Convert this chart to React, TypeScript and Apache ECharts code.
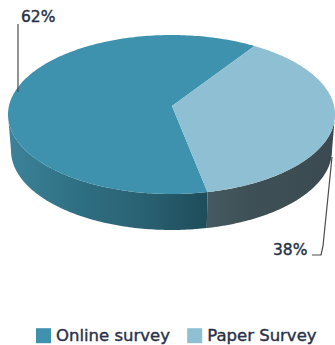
import React, { useEffect, useRef } from "react";
import * as echarts from "echarts";

const categories = ["Online survey", "Paper Survey"];
const shares = [62, 38];
const topColors = ["#3e92ad", "#8fbfd2"];
const wallStops = [
  ["#3d8399", "#2f7084", "#2a6273", "#1e4c5a"],
  ["#445a61", "#3e5056", "#3c4d53", "#3a4a50"],
];

// Clockwise degrees from twelve o'clock where the paper slice begins.
const PAPER_START = 30.5;

const TOP = { cx: 171.5, cy: 114.5, rx: 163.5, ry: 79.5 };
const BASE = { cx: 171.5, cy: 150.5, rx: 160.5, ry: 79.5 };
const APEX = [172, 106];

function rimPoint(e: typeof TOP, deg: number) {
  const a = (deg * Math.PI) / 180;
  return [e.cx + e.rx * Math.sin(a), e.cy - e.ry * Math.cos(a)];
}

function rim(e: typeof TOP, from: number, to: number) {
  const pts: number[][] = [];
  const n = Math.max(2, Math.ceil(to - from));
  for (let i = 0; i <= n; i++) pts.push(rimPoint(e, from + ((to - from) * i) / n));
  return pts;
}

function sliceRange(index: number): [number, number] {
  const paperEnd = PAPER_START + (shares[1] / 100) * 360;
  return index === 1 ? [PAPER_START, paperEnd] : [paperEnd, PAPER_START + 360];
}

function sliceSeries(index: number) {
  return {
    type: "custom",
    name: categories[index],
    coordinateSystem: "none",
    silent: true,
    itemStyle: { color: topColors[index] },
    data: [shares[index]],
    renderItem: (_params: unknown, api: any) => {
      const [from, to] = sliceRange(index);
      const wallFrom = Math.max(from, 90);
      const wallTo = Math.min(to, 270);
      const stops = wallStops[index];
      const fill = new echarts.graphic.LinearGradient(
        0, 0, 1, 0,
        stops.map((color, i) => ({ offset: i / (stops.length - 1), color })),
      );
      const wall = {
        type: "polygon",
        shape: {
          points: [...rim(TOP, wallFrom, wallTo), ...rim(BASE, wallFrom, wallTo).reverse()],
        },
        style: { fill },
      };
      const top = {
        type: "polygon",
        shape: { points: [APEX, ...rim(TOP, from, to)] },
        style: { fill: topColors[index] },
      };
      const leader =
        index === 0
          ? [[18, 24], [18, 92]]
          : [[332, 157], [323, 246], [321, 255], [312, 255]];
      const labelPos = index === 0 ? [21, 17] : [273, 250];
      return {
        type: "group",
        children: [
          wall,
          top,
          {
            type: "polyline",
            shape: { points: leader },
            style: { fill: "none", stroke: "#4a4a4a", lineWidth: 1.2 },
          },
          {
            type: "text",
            style: {
              text: `${api.value(0)}%`,
              x: labelPos[0],
              y: labelPos[1],
              fill: "#26303f",
              stroke: "#26303f",
              lineWidth: 0.4,
              font: "15.5px 'DejaVu Sans'",
              verticalAlign: "middle",
            },
          },
        ],
      };
    },
  };
}

export default function App() {
  const ref = useRef<HTMLDivElement>(null);
  useEffect(() => {
    const chart = echarts.init(ref.current!, null, { renderer: "svg" });
    chart.setOption({
      animation: false,
      backgroundColor: "#ffffff",
      legend: {
        data: categories,
        left: 36,
        top: 327,
        icon: "rect",
        itemWidth: 15,
        itemHeight: 15,
        itemGap: 17,
        padding: 0,
        selectedMode: false,
        textStyle: {
          color: "#2a3048",
          fontFamily: "DejaVu Sans",
          fontSize: 16.5,
          textBorderColor: "#2a3048",
          textBorderWidth: 0.4,
        },
      },
      series: [sliceSeries(0), sliceSeries(1)],
    });
    return () => chart.dispose();
  }, []);
  return (
    <div
      ref={ref}
      style={{ position: "fixed", left: 0, top: 0, width: 335, height: 345 }}
    />
  );
}
